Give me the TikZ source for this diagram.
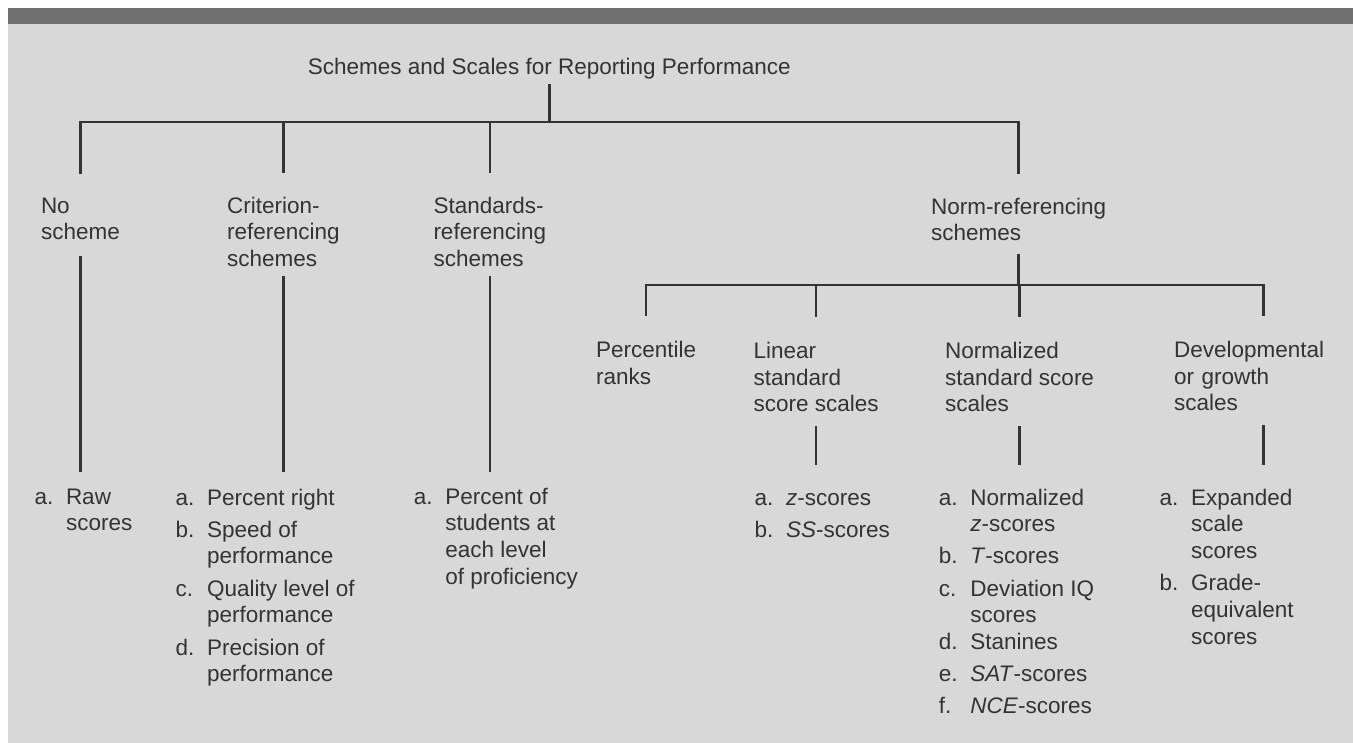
\documentclass[tikz,border=0pt]{standalone}
\usepackage{fontspec}
\setmainfont{Liberation Sans}

\definecolor{band}{HTML}{707070}
\definecolor{panel}{HTML}{D8D8D8}
\definecolor{ink}{HTML}{333333}

\begin{document}
\begin{tikzpicture}[
    x=0.5pt, y=-0.5pt,
    txt/.style={inner sep=0pt, outer sep=0pt, text=ink, align=left, anchor=base west,
        font=\fontsize{11.25pt}{13.35pt}\selectfont},
    lst/.style={inner sep=0pt, outer sep=0pt, text=ink, anchor=base west,
        font=\fontsize{11.25pt}{13.35pt}\selectfont},
    wire/.style={draw=ink, line width=1.25pt},
    tick/.style={wire, shorten >=12pt}
]
    % Frame
    \fill[white] (0,0) rectangle (1353,743);
    \fill[panel] (8,24) rectangle (1353,743);
    \fill[band] (8,8) rectangle (1353,24);
    \useasboundingbox (0,0) rectangle (1353,743);

    % Root
    \node[txt, anchor=base] (title) at (549.3,75) {Schemes and Scales for Reporting Performance};
    \coordinate (topbar) at (0,122);
    \coordinate (rootjn) at (title.south |- topbar);
    \draw[wire, shorten <=2.2pt] (title.south) -- (rootjn);

    % Schemes (placed at the baseline of their last line)
    \node[txt] (nosch) at (41,240) {No\\scheme};
    \node[txt] (crit) at (227.2,266.7) {Criterion-\\referencing\\schemes};
    \node[txt] (stand) at (433.5,266.7) {Standards-\\referencing\\schemes};
    \node[txt] (norm) at (931,240.7) {Norm-referencing\\schemes};
    \foreach \s in {nosch, crit, stand, norm}
        \draw[tick] (rootjn) -| (\s.north);

    % Score lists under the first three schemes
    \node[lst] (rawlist) at (34.5,504) {\begin{tabular}[t]{@{}p{15.75pt}@{}l@{}}
        a. & Raw\\ & scores\end{tabular}};
    \node[lst] (critlist) at (175.5,505) {\begin{tabular}[t]{@{}p{15.75pt}@{}l@{}}
        a. & Percent right\\[2.75pt]
        b. & Speed of\\ & performance\\[2.75pt]
        c. & Quality level of\\ & performance\\[2.75pt]
        d. & Precision of\\ & performance\end{tabular}};
    \node[lst] (standlist) at (413.8,504) {\begin{tabular}[t]{@{}p{15.75pt}@{}l@{}}
        a. & Percent of\\ & students at\\ & each level\\ & of proficiency\end{tabular}};
    \draw[wire, shorten <=8pt, shorten >=6.5pt] (nosch.south) -- (nosch.south |- rawlist.north);
    \draw[wire, shorten <=4.5pt, shorten >=7pt] (crit.south) -- (crit.south |- critlist.north);
    \draw[wire, shorten <=4.5pt, shorten >=6.5pt] (stand.south) -- (stand.south |- standlist.north);

    % Norm-referencing scales
    \coordinate (subbar) at (0,285);
    \coordinate (normjn) at (norm.south |- subbar);
    \draw[wire, shorten <=6.3pt] (norm.south) -- (normjn);
    \node[txt] (pct) at (596.2,384.3) {Percentile\\ranks};
    \node[txt] (lin) at (753.5,411.7) {Linear\\standard\\score scales};
    \node[txt] (nrm) at (945.2,411.7) {Normalized\\standard score\\scales};
    \node[txt, text width=89.3pt] (dev) at (1174,357.3) {Developmental\\or growth\\scales};
    \foreach \s in {pct, lin, nrm, dev}
        \draw[wire, shorten >=12.5pt] (normjn) -| (\s.north);

    % Score lists under the scales
    \node[lst] (linlist) at (754.5,505) {\begin{tabular}[t]{@{}p{15.75pt}@{}l@{}}
        a. & \textit{z}-scores\\[2.75pt]
        b. & \textit{SS}-scores\end{tabular}};
    \node[lst] (nrmlist) at (938.8,505) {\begin{tabular}[t]{@{}p{15.75pt}@{}l@{}}
        a. & Normalized\\ & \textit{z}-scores\\[2.75pt]
        b. & \textit{T}-scores\\[2.75pt]
        c. & Deviation IQ\\ & scores\\
        d. & Stanines\\[2.75pt]
        e. & \textit{SAT}-scores\\[2.75pt]
        f. & \textit{NCE}-scores\end{tabular}};
    \node[lst] (devlist) at (1159.5,505) {\begin{tabular}[t]{@{}p{15.75pt}@{}l@{}}
        a. & Expanded\\ & scale\\ & scores\\[2.75pt]
        b. & Grade-\\ & equivalent\\ & scores\end{tabular}};
    \foreach \s/\l in {lin/linlist, nrm/nrmlist, dev/devlist}
        \draw[wire, shorten <=7.2pt, shorten >=10.7pt] (\s.south) -- (\s.south |- \l.north);
\end{tikzpicture}
\end{document}
